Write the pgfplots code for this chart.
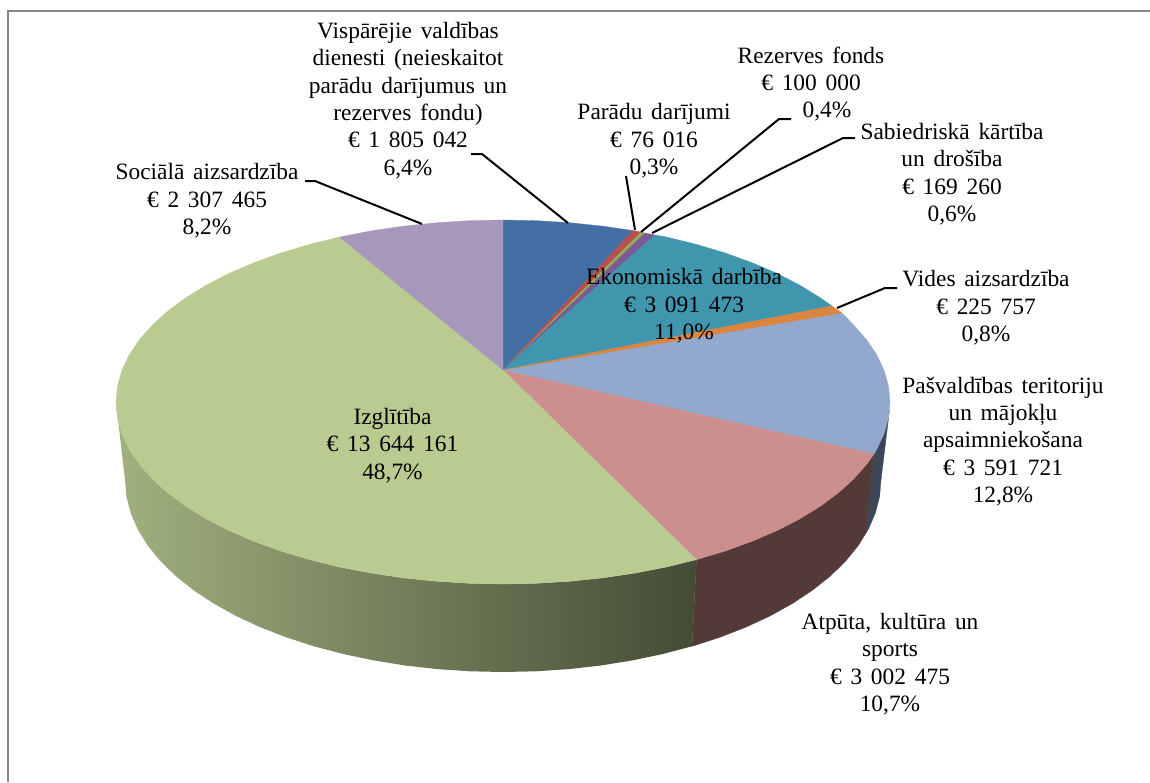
\documentclass[border=0pt]{standalone}
\usepackage{fontspec}
\setmainfont{Liberation Serif}[WordSpace=1.5]
\usepackage{pgfplots}
\pgfplotsset{compat=1.18}
\definecolor{cBlue}{HTML}{446FA4}
\definecolor{cRed}{HTML}{B9504D}
\definecolor{cOlive}{HTML}{93A953}
\definecolor{cPurple}{HTML}{7A5C95}
\definecolor{cTeal}{HTML}{4096AD}
\definecolor{cOrange}{HTML}{DB843D}
\definecolor{cPeri}{HTML}{92A8CD}
\definecolor{cRose}{HTML}{CC8F8D}
\definecolor{cGreen}{HTML}{B9CB91}
\definecolor{cLilac}{HTML}{A697BB}
\definecolor{cBrown}{HTML}{543939}
\definecolor{cSlate}{HTML}{3B4658}
\definecolor{cFrame}{HTML}{868686}
\newcommand{\lbl}[3]{\node[align=center,inner sep=0pt,text=black,font=\fontsize{23.4}{27.4}\selectfont] at (axis cs:#1,#2) {#3};}
\begin{document}
\begin{tikzpicture}
\begin{axis}[
  width=1150pt,height=782pt,scale only axis,
  xmin=0,xmax=1150,ymin=0,ymax=782,y dir=reverse,
  hide axis,clip=false]
\path[use as bounding box] (axis cs:0,0) rectangle (axis cs:1150,782);
% frame
\addplot[cFrame,line width=2.2pt] coordinates {(8,782)(8,11)(1150,11)};
% side walls
\addplot[fill=cSlate,draw=cSlate,line width=0.3pt] coordinates {(889.5,410)(888.5,417.9)(884.1,433.6)(876.8,449.1)(874,454)(866,533)(868.1,529.7)(875.3,513.3)(879.6,496.7)(881,480)} --cycle;
\addplot[fill=cBrown,draw=cBrown,line width=0.3pt] coordinates {(874,454)(866.7,464.2)(853.7,478.9)(838.1,493)(820,506.4)(799.5,519)(776.7,530.7)(751.8,541.4)(725,551.1)(696.5,559.6)(692,646.3)(719.8,637.3)(746,627.1)(770.3,615.8)(792.6,603.4)(812.6,590.1)(830.4,576)(845.6,561.1)(858.2,545.7)(866,533)} --cycle;
\addplot[draw=none,left color=cGreen!87!black,middle color=cGreen!62!black,right color=cGreen!37!black] coordinates {(696.5,559.6)(666.5,567)(635.4,573)(603.2,577.8)(570.2,581.2)(536.7,583.3)(503,584)(469.3,583.3)(435.8,581.2)(402.8,577.8)(370.6,573)(339.5,567)(309.5,559.6)(281,551.1)(254.2,541.4)(229.3,530.7)(206.5,519)(186,506.4)(167.9,493)(152.3,478.9)(139.3,464.2)(129.2,449.1)(121.9,433.6)(117.5,417.9)(116,402)(125,480)(126.4,496.7)(130.7,513.3)(137.9,529.7)(147.8,545.7)(160.4,561.1)(175.6,576)(193.4,590.1)(213.4,603.4)(235.7,615.8)(260,627.1)(286.2,637.3)(314,646.3)(343.2,654)(373.7,660.4)(405.2,665.5)(437.4,669.1)(470.1,671.3)(503,672)(535.9,671.3)(568.6,669.1)(600.8,665.5)(632.3,660.4)(662.8,654)(692,646.3)} --cycle;
% top face
\addplot[fill=cBlue,draw=cBlue,line width=0.3pt] coordinates {(503,370)(503,220)(536.7,220.7)(570.2,222.8)(603.2,226.2)(633,230.6)} --cycle;
\addplot[fill=cRed,draw=cRed,line width=0.2pt] coordinates {(503,370)(633,230.6)(641,232)} --cycle;
\addplot[fill=cOlive,draw=cOlive,line width=0.2pt] coordinates {(503,370)(641,232)(645,233)} --cycle;
\addplot[fill=cPurple,draw=cPurple,line width=0.2pt] coordinates {(503,370)(645,233)(655,235)} --cycle;
\addplot[fill=cTeal,draw=cTeal,line width=0.3pt] coordinates {(503,370)(655,235)(666.5,237)(696.5,244.4)(725,252.9)(751.8,262.6)(776.7,273.3)(799.5,285)(820,297.6)(832,306)} --cycle;
\addplot[fill=cPeri,draw=cPeri,line width=0.3pt] coordinates {(503,370)(842,313)(853.7,325.1)(866.7,339.8)(876.8,354.9)(884.1,370.4)(888.5,386.1)(890,402)(888.5,417.9)(884.1,433.6)(876.8,449.1)(874,454)} --cycle;
\addplot[fill=cOrange,draw=cOrange,line width=0.2pt] coordinates {(503,370)(832,306)(842,313)} --cycle;
\addplot[fill=cRose,draw=cRose,line width=0.3pt] coordinates {(503,370)(874,454)(866.7,464.2)(853.7,478.9)(838.1,493)(820,506.4)(799.5,519)(776.7,530.7)(751.8,541.4)(725,551.1)(696.5,559.6)} --cycle;
\addplot[fill=cGreen,draw=cGreen,line width=0.3pt] coordinates {(503,370)(696.5,559.6)(666.5,567)(635.4,573)(603.2,577.8)(570.2,581.2)(536.7,583.3)(503,584)(469.3,583.3)(435.8,581.2)(402.8,577.8)(370.6,573)(339.5,567)(309.5,559.6)(281,551.1)(254.2,541.4)(229.3,530.7)(206.5,519)(186,506.4)(167.9,493)(152.3,478.9)(139.3,464.2)(129.2,449.1)(121.9,433.6)(117.5,417.9)(116,402)(117.5,386.1)(121.9,370.4)(129.2,354.9)(139.3,339.8)(152.3,325.1)(167.9,311)(186,297.6)(206.5,285)(229.3,273.3)(254.2,262.6)(281,252.9)(309.5,244.4)(339.5,237)} --cycle;
\addplot[fill=cLilac,draw=cLilac,line width=0.3pt] coordinates {(503,370)(339.5,237)(370.6,231)(402.8,226.2)(435.8,222.8)(469.3,220.7)(503,220)} --cycle;
% leader lines
\addplot[black,line width=2pt] coordinates {(471,154)(482,154)(568,223)};
\addplot[black,line width=2pt] coordinates {(305,181)(315,181)(422,224)};
\addplot[black,line width=2pt] coordinates {(626,176)(635,230)};
\addplot[black,line width=2pt] coordinates {(791,119)(779,119)(641,232)};
\addplot[black,line width=2pt] coordinates {(855,138)(843,138)(652,233)};
\addplot[black,line width=2pt] coordinates {(897,288)(885,288)(837,308)};
% labels
\lbl{408}{100.5}{Vispārējie valdības\\dienesti (neieskaitot\\parādu darījumus un\\rezerves fondu)\\€ 1 805 042\\6,4\%}
\lbl{207}{201}{Sociālā aizsardzība\\€ 2 307 465\\8,2\%}
\lbl{654}{141}{Parādu darījumi\\€ 76 016\\0,3\%}
\lbl{811}{84}{Rezerves fonds\\€ 100 000\\\hspace*{32pt}0,4\%}
\lbl{952}{174}{Sabiedriskā kārtība\\un drošība\\€ 169 260\\0,6\%}
\lbl{986}{308}{Vides aizsardzība\\€ 225 757\\0,8\%}
\lbl{1003}{441.5}{Pašvaldības teritoriju\\un mājokļu\\apsaimniekošana\\€ 3 591 721\\12,8\%}
\lbl{890}{664}{Atpūta, kultūra un\\sports\\€ 3 002 475\\10,7\%}
\lbl{392.5}{445.5}{Izglītība\\€ 13 644 161\\48,7\%}
\lbl{684}{306}{Ekonomiskā darbība\\€ 3 091 473\\11,0\%}
\end{axis}
\end{tikzpicture}
\end{document}
